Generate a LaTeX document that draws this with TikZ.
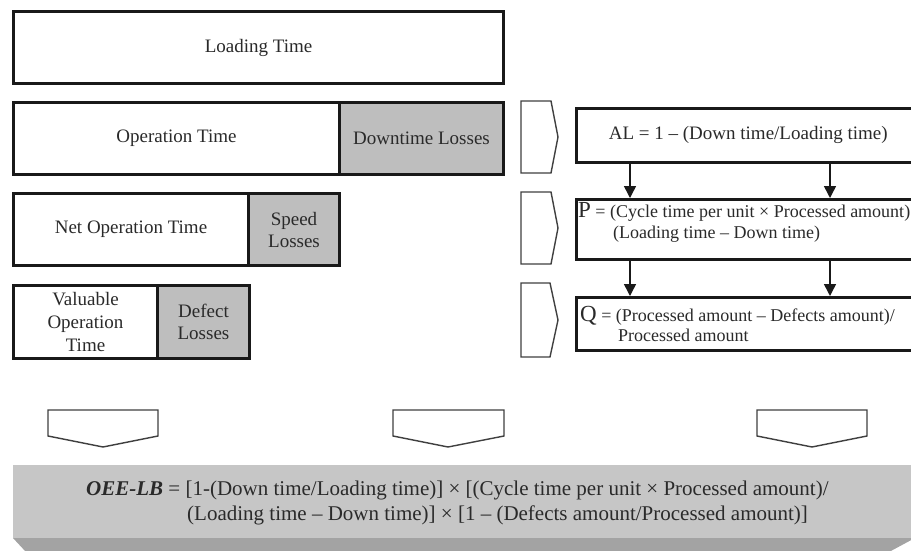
\documentclass[tikz,border=0pt]{standalone}
\usepackage{fontspec}
\setmainfont{Liberation Serif}
\usetikzlibrary{arrows.meta}
\definecolor{lossgray}{HTML}{BEBEBE}
\definecolor{bandgray}{HTML}{C6C6C6}
\definecolor{banddark}{HTML}{A3A3A3}
\definecolor{chevline}{HTML}{404040}
\definecolor{inkgray}{HTML}{2A2A2A}
\tikzset{
  lbox/.style={draw=black!90, line width=3pt, inner sep=0pt, anchor=north west,
    font=\fontsize{19}{22}\selectfont, align=center, text=inkgray},
  lossbox/.style={lbox, fill=lossgray},
  fbox/.style={draw=black!90, line width=2.5pt, inner sep=0pt, anchor=north west,
    font=\fontsize{18}{21}\selectfont, text=inkgray},
  ftext/.style={font=\fontsize{18}{21}\selectfont, inner sep=0pt, anchor=base west, text=inkgray},
  btext/.style={font=\fontsize{21}{25}\selectfont, inner sep=0pt, anchor=base west, text=inkgray},
  chev/.style={draw=chevline, line width=1.4pt, fill=white, line join=miter},
  arr/.style={draw=black!90, line width=1.5pt, -{Triangle[length=12pt,width=12pt]}}
}
\begin{document}
\begin{tikzpicture}[x=1pt,y=-1pt]
\useasboundingbox (0,0) rectangle (911,550);
\clip (0,0) rectangle (911,550);
\fill[white] (0,0) rectangle (911,550);

% left bars
\node[lbox, minimum width=490pt, minimum height=72pt] (load) at (12,10) {Loading Time};
\node[lbox, minimum width=326pt, minimum height=72pt] (op) at (12,101) {Operation Time};
\node[lossbox, minimum width=164pt, minimum height=72pt] (down) at (338,101) {Downtime Losses};
\node[lbox, minimum width=235pt, minimum height=72pt] (net) at (12,192) {Net Operation Time};
\node[lossbox, minimum width=91pt, minimum height=72pt] (speed) at (247,192) {Speed\\Losses};
\node[lbox, minimum width=144pt, minimum height=73pt, font=\fontsize{19}{23}\selectfont] (val) at (12,284) {Valuable\\Operation\\Time};
\node[lossbox, minimum width=92pt, minimum height=73pt] (defect) at (156,284) {Defect\\Losses};

% right chevrons
\draw[chev] (521,101) -- (551,101) -- (558,137) -- (551,173) -- (521,173) -- cycle;
\draw[chev] (521,192) -- (551,192) -- (558,228) -- (551,264) -- (521,264) -- cycle;
\draw[chev] (521,283) -- (550,283) -- (558,320) -- (550,357) -- (521,357) -- cycle;

% formula boxes
\node[fbox, minimum width=344pt, minimum height=54pt] (al) at (575,107) {\fontsize{19}{21}\selectfont AL = 1 -- (Down time/Loading time)};
\node[fbox, minimum width=362pt, minimum height=60pt] (p) at (575,198) {};
\node[fbox, minimum width=362pt, minimum height=53pt] (q) at (575,296) {};

\node[ftext] (p1) at (578,217) {{\fontsize{23}{23}\selectfont P} = (Cycle time per unit × Processed amount)};
\node[ftext] (p2) at (613,238) {(Loading time -- Down time)};
\node[ftext] (q1) at (580,321) {{\fontsize{23}{23}\selectfont Q} = (Processed amount -- Defects amount)/};
\node[ftext] (q2) at (618,341) {Processed amount};

% arrows
\coordinate (ax1) at (630,0);
\coordinate (ax2) at (830,0);
\draw[arr] (al.south -| ax1) -- (p.north -| ax1);
\draw[arr] (al.south -| ax2) -- (p.north -| ax2);
\draw[arr] (p.south -| ax1) -- (q.north -| ax1);
\draw[arr] (p.south -| ax2) -- (q.north -| ax2);

% bottom chevrons
\draw[chev] (48,410) -- (158,410) -- (158,436) -- (103,447) -- (48,436) -- cycle;
\draw[chev] (393,410) -- (504,410) -- (504,436) -- (448,447) -- (393,436) -- cycle;
\draw[chev] (757,410) -- (867,410) -- (867,436) -- (812,447) -- (757,436) -- cycle;

% bottom band
\fill[bandgray] (13,465) rectangle (920,538);
\fill[banddark] (13,538) -- (915,538) -- (889,552) -- (26,552) -- cycle;
\node[btext] (oee1) at (86,495) {\textbf{\textit{OEE-LB}} = [1-(Down time/Loading time)] × [(Cycle time per unit × Processed amount)/};
\node[btext] (oee2) at (187,520) {(Loading time -- Down time)] × [1 -- (Defects amount/Processed amount)]};
\end{tikzpicture}
\end{document}
